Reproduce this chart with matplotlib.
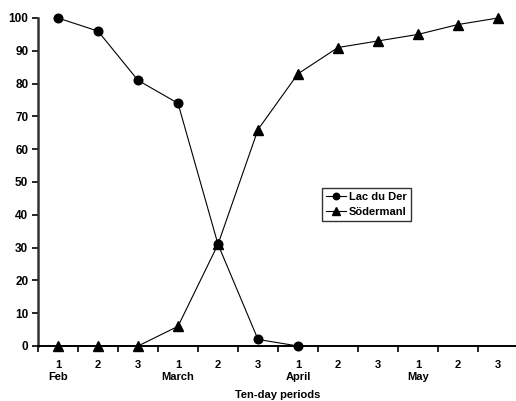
import matplotlib
matplotlib.use("Agg")
import matplotlib.pyplot as plt
from matplotlib.ticker import FixedLocator

periods = ["1", "2", "3", "1", "2", "3", "1", "2", "3", "1", "2", "3"]
months = ["Feb", "", "", "March", "", "", "April", "", "", "May", "", ""]
lac_du_der = [100, 96, 81, 74, 31, 2, 0]
sodermanl = [0, 0, 0, 6, 31, 66, 83, 91, 93, 95, 98, 100]
y_ticks = list(range(0, 101, 10))

plt.rcParams["font.family"] = ["Liberation Sans", "DejaVu Sans"]
plt.rcParams["font.weight"] = "bold"

W, H = 516, 401
fig = plt.figure(figsize=(W / 100, H / 100), dpi=100)
x0, x1 = 38, 516
yb, yt = 346, 18
ax = fig.add_axes([x0 / W, (H - yb) / H, (x1 - x0) / W, (yb - yt) / H])

n = len(periods)
xs = list(range(n))
ax.plot(xs[:len(lac_du_der)], lac_du_der, color="black", lw=0.8, marker="o",
        ms=6.2, mfc="black", mec="black", clip_on=False, zorder=3, label="Lac du Der")
ax.plot(xs, sodermanl, color="black", lw=0.8, marker="^",
        ms=6.8, mfc="black", mec="black", clip_on=False, zorder=3, label="Södermanl")

ax.set_xlim(-0.5, -0.5 + (x1 - x0) / 40)
ax.set_ylim(0, 100)

for s in ("top", "right"):
    ax.spines[s].set_visible(False)
ax.spines["left"].set_linewidth(1.8)
ax.spines["left"].set_color("#333333")
ax.spines["bottom"].set_linewidth(1.4)
ax.spines["bottom"].set_color("black")

ax.set_yticks(y_ticks)
ax.set_yticklabels([str(v) for v in y_ticks], fontsize=8.5, fontweight="bold")
ax.tick_params(axis="y", direction="out", length=4, width=1.2, pad=3)

# boundaries between ten-day periods carry the tick marks
ax.xaxis.set_major_locator(FixedLocator([i - 0.5 for i in range(n + 1)]))
ax.xaxis.set_major_formatter(plt.NullFormatter())
ax.tick_params(axis="x", which="major", direction="out", length=4, width=1.2)
ax.xaxis.set_minor_locator(FixedLocator(xs))
ax.set_xticklabels([f"{p}\n{m}" if m else p for p, m in zip(periods, months)],
                   minor=True, fontsize=8, fontweight="bold", linespacing=1.3,
                   va="top")
ax.tick_params(axis="x", which="minor", length=0, pad=10)

fig.text((x0 + 240) / W, 1 - 395 / H, "Ten-day periods", ha="center", va="center",
         fontsize=8, fontweight="bold")

leg = ax.legend(loc="upper left", bbox_to_anchor=(322 / W, 1 - 188 / H),
                bbox_transform=fig.transFigure, frameon=True, fancybox=False,
                edgecolor="black", fontsize=8, handlelength=1.8, handletextpad=0.3,
                borderpad=0.35, labelspacing=0.45, borderaxespad=0, markerscale=0.75)
leg.get_frame().set_linewidth(1.0)

fig.savefig("out.png", dpi=100)
